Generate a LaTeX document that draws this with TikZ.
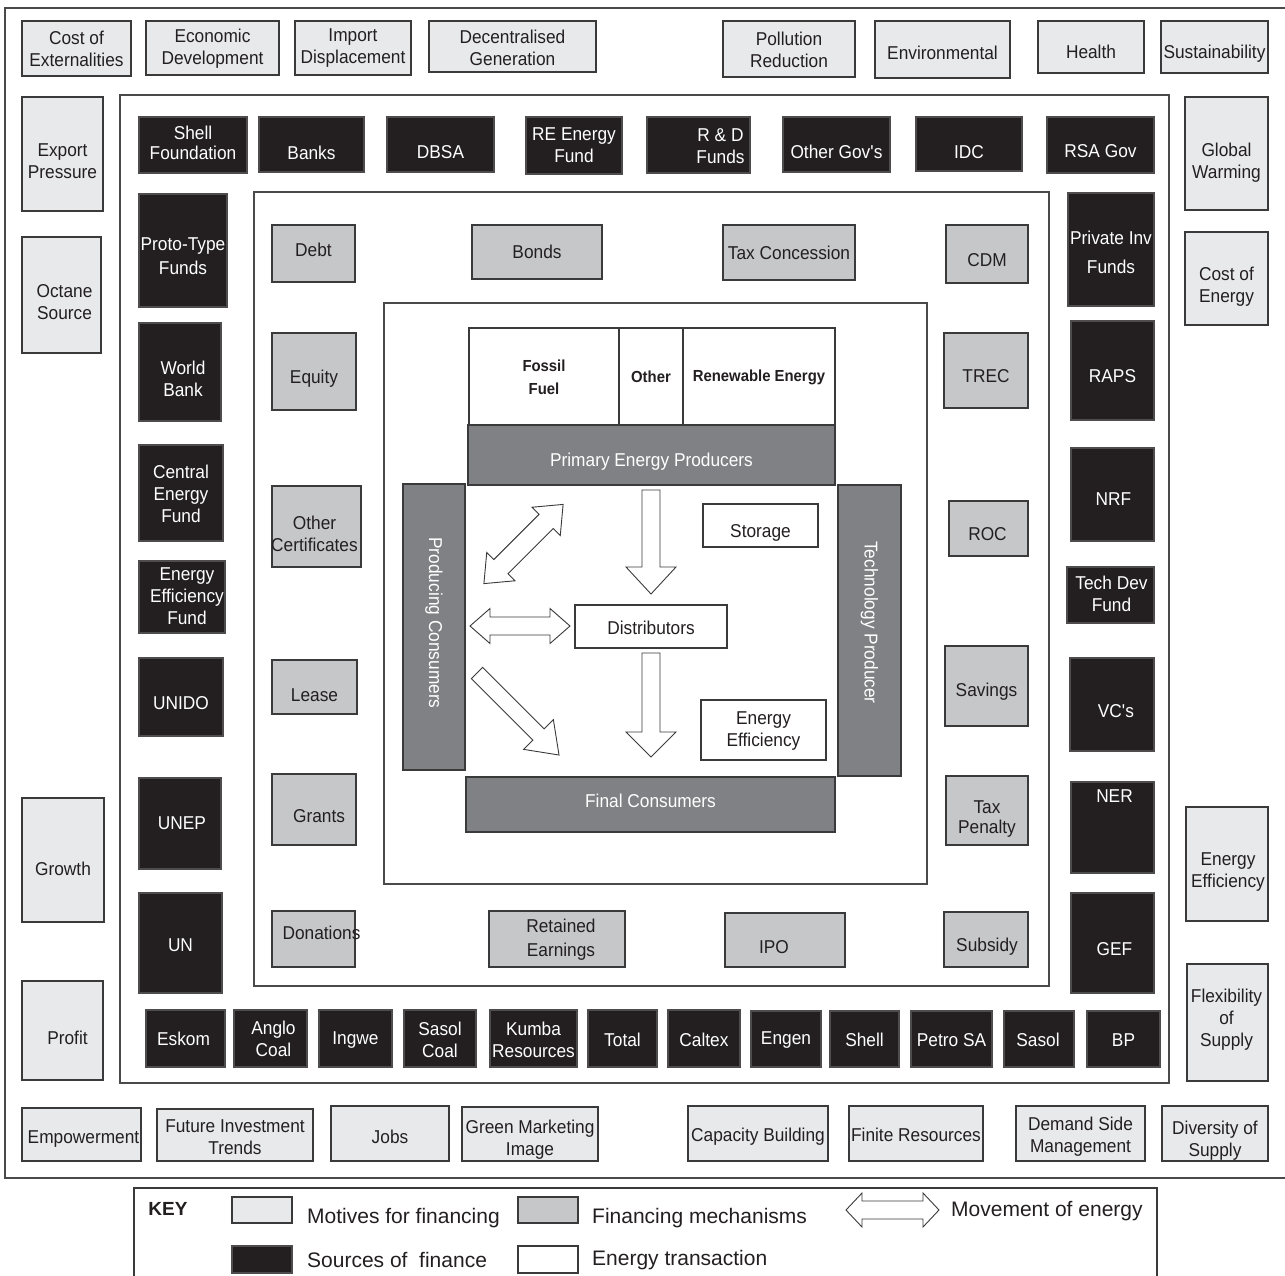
\documentclass[tikz,border=0pt]{standalone}
\usepackage{fontspec}
\setmainfont{Liberation Sans}[FakeStretch=0.93]
\newfontfamily\keyfont{Liberation Sans}
\definecolor{motc}{HTML}{E8E9EB}
\definecolor{finc}{HTML}{C6C7C9}
\definecolor{srcc}{HTML}{231F20}
\definecolor{barc}{HTML}{808184}
\definecolor{txtc}{HTML}{231F20}
\definecolor{bordc}{HTML}{3A3A3A}
\definecolor{framec}{HTML}{4A4A4A}
\tikzset{
 boxbase/.style={draw=bordc, line width=1.1pt, inner sep=0pt, outer sep=0pt},
 motbox/.style={boxbase, fill=motc},
 finbox/.style={boxbase, fill=finc},
 srcbox/.style={boxbase, fill=srcc, draw=srcc!80!white},
 enbox/.style={boxbase, fill=white},
 ebbox/.style={boxbase, fill=white},
 barbox/.style={boxbase, fill=barc},
 barvbox/.style={boxbase, fill=barc},
 basetxt/.style={inner sep=0pt, align=center, font=\fontsize{18.6}{22}\selectfont},
 mottxt/.style={basetxt, text=txtc},
 fintxt/.style={basetxt, text=txtc},
 srctxt/.style={basetxt, text=white},
 entxt/.style={basetxt, text=txtc},
 ebtxt/.style={basetxt, text=txtc, font=\bfseries\fontsize{16}{23}\selectfont},
 bartxt/.style={basetxt, text=white},
 barvtxt/.style={basetxt, text=white, rotate=-90},
 frame/.style={draw=framec, line width=2pt},
 arr/.style={draw=bordc, fill=white, line width=0.9pt, line join=miter},
 keytxt/.style={inner sep=0pt, anchor=west, text=txtc, font=\keyfont\fontsize{21}{24}\selectfont},
}
% box: style prefix, name, x1, y1, x2, y2, text dx, text dy, text
\newcommand\bx[9]{%
 \node[#1box, minimum width={(#5-#3)*1pt}, minimum height={(#6-#4)*1pt}] (#2) at ({(#3+#5)/2},{(#4+#6)/2}) {};
 \node[#1txt] (#2t) at ([shift={(#7,#8)}]#2.center) {#9};
}
\newcommand\dblarr[7]{\begin{scope}[shift={(#1,#2)},rotate=#3]
 \draw[arr] ({-#4/2},0) -- ({-#4/2+#5},#6) -- ({-#4/2+#5},#7) -- ({#4/2-#5},#7) -- ({#4/2-#5},#6) -- ({#4/2},0) -- ({#4/2-#5},{-#6}) -- ({#4/2-#5},{-#7}) -- ({-#4/2+#5},{-#7}) -- ({-#4/2+#5},{-#6}) -- cycle;
\end{scope}}
\newcommand\sglarr[7]{\begin{scope}[shift={(#1,#2)},rotate=#3]
 \draw[arr] (0,#7) -- ({#4-#5},#7) -- ({#4-#5},#6) -- (#4,0) -- ({#4-#5},{-#6}) -- ({#4-#5},{-#7}) -- (0,{-#7}) -- cycle;
\end{scope}}
\begin{document}
\begin{tikzpicture}[x=1pt,y=-1pt]
\useasboundingbox (0,0) rectangle (1285,1276);
% frames
\draw[frame] (5,8) rectangle (1290,1178);
\draw[frame] (120,95) rectangle (1169,1083);
\draw[frame, line width=1.5pt] (254,192) rectangle (1049,986);
\draw[frame, line width=1.3pt] (384,303) rectangle (927,884);
\draw[frame, line width=1.3pt, draw=bordc] (134,1188) rectangle (1157,1295);
% motives: top
\bx{mot}{costext}{22}{21}{131}{76}{0}{0}{Cost of\\Externalities}
\bx{mot}{econdev}{146}{21}{279}{75}{0}{1}{Economic\\Development}
\bx{mot}{impdisp}{295}{21}{411}{75}{0}{0}{Import\\Displacement}
\bx{mot}{decgen}{429}{21}{596}{72}{0}{1}{Decentralised\\Generation}
\bx{mot}{pollred}{723}{21}{855}{77}{0}{1}{Pollution\\Reduction}
\bx{mot}{environ}{875}{21}{1010}{78}{0}{3}{Environmental}
\bx{mot}{health}{1038}{21}{1144}{73}{0}{5}{Health}
\bx{mot}{sustain}{1161}{21}{1268}{73}{0}{7}{Sustainability}
% motives: left
\bx{mot}{export}{22}{97}{103}{211}{0}{7}{Export\\Pressure}
\bx{mot}{octane}{22}{237}{101}{353}{3}{7}{Octane\\Source}
\bx{mot}{growth}{22}{798}{104}{922}{0}{9}{Growth}
\bx{mot}{profit}{22}{981}{103}{1080}{5}{7}{Profit}
% motives: right
\bx{mot}{globwarm}{1185}{97}{1268}{210}{0}{9}{Global\\Warming}
\bx{mot}{costen}{1185}{232}{1268}{325}{0}{8.5}{Cost of\\Energy}
\bx{mot}{eneff}{1186}{807}{1268}{921}{1}{8}{Energy\\Efficiency}
\bx{mot}{flex}{1187}{964}{1268}{1081}{-1}{-2.5}{Flexibility\\of\\Supply}
% motives: bottom
\bx{mot}{empower}{22}{1108}{141}{1161}{2}{5}{Empowerment}
\bx{mot}{futinv}{157}{1109}{313}{1161}{0}{2}{Future Investment\\Trends}
\bx{mot}{jobs}{331}{1106}{449}{1161}{0}{3}{Jobs}
\bx{mot}{green}{462}{1107}{598}{1161}{0}{6}{Green Marketing\\Image}
\bx{mot}{capac}{688}{1106}{828}{1161}{0}{3}{Capacity Building}
\bx{mot}{finite}{849}{1106}{983}{1161}{0}{1}{Finite Resources}
\bx{mot}{dsm}{1016}{1106}{1145}{1161}{0}{3}{Demand Side\\Management}
\bx{mot}{divers}{1162}{1106}{1268}{1161}{0}{7}{Diversity of\\Supply}
% sources: top
\bx{src}{shellf}{139}{117}{247}{173}{0}{-2}{Shell\\[-2pt]Foundation}
\bx{src}{banks}{259}{117}{364}{172}{0}{8}{Banks}
\bx{src}{dbsa}{387}{117}{494}{172}{0}{8}{DBSA}
\bx{src}{refund}{526}{117}{622}{174}{0}{0}{RE Energy\\Fund}
\bx{src}{rdfunds}{647}{117}{750}{173}{22}{1}{R \& D\\Funds}
\bx{src}{othergov}{783}{117}{890}{172}{0}{7}{Other Gov\textquotesingle s}
\bx{src}{idc}{916}{117}{1022}{171}{0}{8}{IDC}
\bx{src}{rsagov}{1047}{117}{1154}{173}{0}{6}{RSA Gov}
% sources: left
\bx{src}{proto}{139}{194}{227}{307}{0}{6}{Proto-Type\\[2pt]Funds}
\bx{src}{wb}{139}{323}{221}{421}{3}{7}{World\\Bank}
\bx{src}{cef}{139}{445}{223}{541}{0}{0.5}{Central\\Energy\\Fund}
\bx{src}{eef}{139}{561}{225}{633}{5}{-1}{Energy\\Efficiency\\Fund}
\bx{src}{unido}{139}{658}{223}{736}{0}{6}{UNIDO}
\bx{src}{unep}{139}{778}{221}{869}{2}{0}{UNEP}
\bx{src}{un}{139}{893}{222}{993}{0}{2}{UN}
% sources: right
\bx{src}{privinv}{1068}{193}{1154}{306}{0}{3}{Private Inv\\[7pt]Funds}
\bx{src}{raps}{1071}{321}{1154}{420}{0}{6}{RAPS}
\bx{src}{nrf}{1071}{448}{1154}{541}{1}{5}{NRF}
\bx{src}{techdev}{1067}{567}{1154}{623}{1}{-1}{Tech Dev\\Fund}
\bx{src}{vcs}{1070}{658}{1154}{751}{4}{7}{VC\textquotesingle s}
\bx{src}{ner}{1071}{782}{1154}{873}{2}{-31}{NER}
\bx{src}{gef}{1071}{893}{1154}{993}{2}{6}{GEF}
% sources: bottom
\bx{src}{eskom}{146}{1010}{225}{1067}{-2}{0}{Eskom}
\bx{src}{anglo}{234}{1010}{307}{1067}{3}{0.5}{Anglo\\Coal}
\bx{src}{ingwe}{319}{1010}{392}{1067}{0}{2}{Ingwe}
\bx{src}{sasolc}{404}{1010}{476}{1067}{0}{1}{Sasol\\Coal}
\bx{src}{kumba}{490}{1010}{577}{1067}{0}{1}{Kumba\\Resources}
\bx{src}{total}{588}{1010}{657}{1067}{0}{1}{Total}
\bx{src}{caltex}{668}{1010}{740}{1067}{0}{1}{Caltex}
\bx{src}{engen}{751}{1011}{821}{1067}{0}{1}{Engen}
\bx{src}{shell}{830}{1011}{899}{1067}{0}{1}{Shell}
\bx{src}{petrosa}{911}{1011}{992}{1067}{0}{1}{Petro SA}
\bx{src}{sasol}{1004}{1011}{1074}{1067}{-1}{1}{Sasol}
\bx{src}{bp}{1087}{1011}{1160}{1067}{0}{1}{BP}
% financing mechanisms
\bx{fin}{debt}{272}{225}{355}{282}{0}{-4}{Debt}
\bx{fin}{bonds}{472}{225}{602}{279}{0}{0}{Bonds}
\bx{fin}{taxcon}{723}{225}{855}{280}{0}{0}{Tax Concession}
\bx{fin}{cdm}{946}{225}{1028}{283}{0}{6}{CDM}
\bx{fin}{equity}{272}{333}{356}{410}{0}{7}{Equity}
\bx{fin}{trec}{944}{333}{1028}{408}{0}{6}{TREC}
\bx{fin}{othcert}{272}{486}{361}{567}{-2}{7}{Other\\Certificates}
\bx{fin}{roc}{949}{501}{1028}{556}{-1}{6}{ROC}
\bx{fin}{lease}{272}{660}{357}{714}{0}{8}{Lease}
\bx{fin}{savings}{945}{646}{1028}{726}{0}{6}{Savings}
\bx{fin}{grants}{272}{774}{356}{845}{5}{7}{Grants}
\bx{fin}{taxpen}{946}{776}{1028}{845}{0}{9}{Tax\\[-2pt]Penalty}
\bx{fin}{donat}{272}{911}{355}{967}{8}{-6}{Donations}
\bx{fin}{retain}{489}{911}{625}{967}{4}{1}{Retained\\[2pt]Earnings}
\bx{fin}{ipo}{725}{913}{845}{967}{-11}{7}{IPO}
\bx{fin}{subsidy}{944}{912}{1028}{967}{1}{7}{Subsidy}
% energy system
\bx{eb}{fossil}{469}{328}{619}{425}{0}{1}{Fossil\\Fuel}
\bx{eb}{other}{619}{328}{683}{425}{0}{0}{Other}
\bx{eb}{renew}{683}{328}{835}{425}{0}{1}{Renewable Energy}
\bx{bar}{primary}{468}{425}{835}{485}{0}{7}{Primary Energy Producers}
\bx{barv}{prodcons}{403}{484}{465}{770}{0}{-4}{Producing Consumers}
\bx{barv}{techprod}{838}{485}{901}{776}{0}{-8}{Technology Producer}
\bx{bar}{final}{466}{777}{835}{832}{0}{-4}{Final Consumers}
\bx{en}{storage}{703}{504}{818}{547}{0}{7}{Storage}
\bx{en}{distrib}{575}{605}{727}{648}{0}{1}{Distributors}
\bx{en}{enereff}{701}{700}{826}{760}{0}{1}{Energy\\Efficiency}
% block arrows (movement of energy)
\dblarr{523.5}{544}{45}{112}{24}{20}{10}
\dblarr{520}{626}{0}{100}{20}{17.5}{9}
\sglarr{477}{673}{-45}{116}{29}{21}{8}
\sglarr{651}{490}{-90}{104}{27}{25}{9}
\sglarr{651}{653}{-90}{104}{25}{25}{9}
% key
\node[inner sep=0pt, text=txtc, font=\keyfont\bfseries\fontsize{19}{22}\selectfont] (keyt) at (168,1209) {KEY};
\node[motbox, minimum width=60pt, minimum height=26pt] (kmot) at (262,1210) {};
\node[keytxt] (kmott) at (307,1218) {Motives for financing};
\node[finbox, minimum width=60pt, minimum height=26pt] (kfin) at (548,1210) {};
\node[keytxt] (kfint) at (592,1218) {Financing mechanisms};
\node[srcbox, minimum width=60pt, minimum height=27pt] (ksrc) at (262,1259.5) {};
\node[keytxt] (ksrct) at (307,1259.5) {Sources of\ \ finance};
\node[enbox, minimum width=60pt, minimum height=27pt] (ken) at (548,1259.5) {};
\node[keytxt] (kent) at (592,1260) {Energy transaction};
\dblarr{892.5}{1210}{0}{93}{16}{17}{9}
\node[keytxt] (karrt) at (951,1211) {Movement of energy};
\end{tikzpicture}
\end{document}
